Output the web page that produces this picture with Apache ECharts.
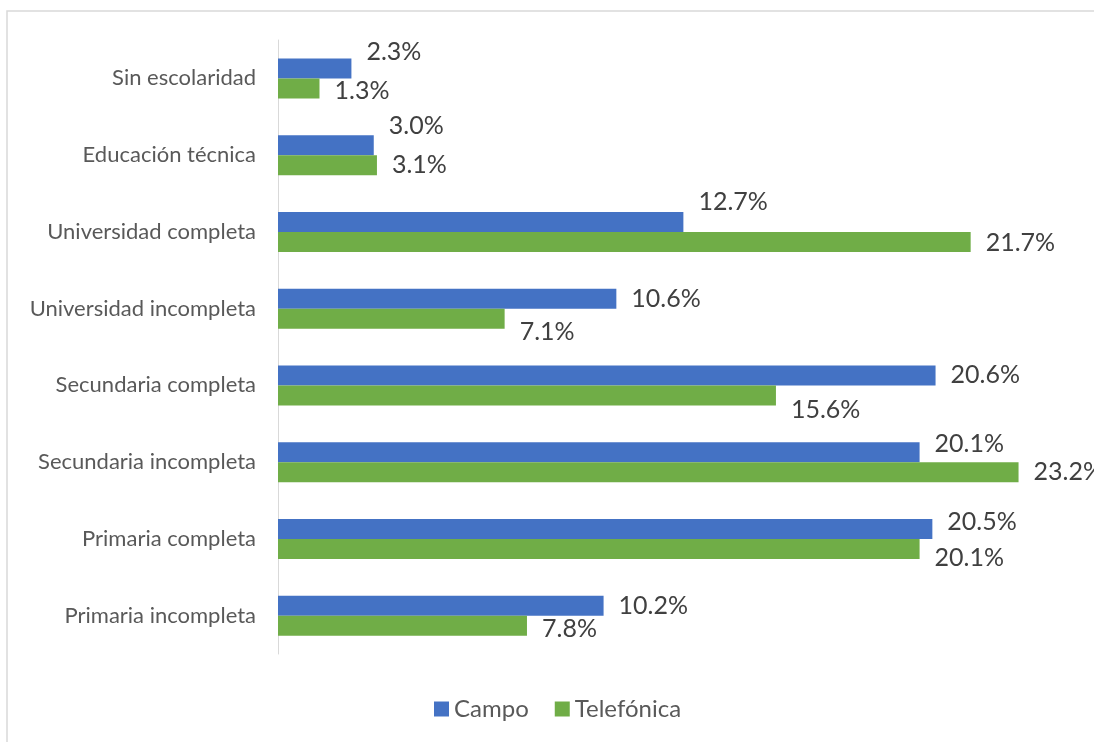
<!DOCTYPE html>
<html>
<head>
<meta charset="utf-8">
<script src="https://cdn.jsdelivr.net/npm/echarts@6/dist/echarts.min.js"></script>
<style>
    html, body { margin: 0; padding: 0; background: #fff; }
    #chart { width: 1094px; height: 742px; }
</style>
</head>
<body>
<div id="chart"></div>
<script>
// categories listed bottom to top
var categories = ['Primaria incompleta', 'Primaria completa', 'Secundaria incompleta', 'Secundaria completa',
    'Universidad incompleta', 'Universidad completa', 'Educación técnica', 'Sin escolaridad'];
var campo = [10.2, 20.5, 20.1, 20.6, 10.6, 12.7, 3.0, 2.3];
var telefonica = [7.8, 20.1, 23.2, 15.6, 7.1, 21.7, 3.1, 1.3];

// vertical nudges of the data labels, as placed in the original
var campoLabelShift = [0, -7, -8, 0, 0, -20, -19, -16];
var teleLabelShift = [3, 9, 0, 15, 13, 1, 0, 3];

var font = 'Lato, "Open Sans", sans-serif';

function withLabels(values, shifts) {
    return values.map(function (v, i) {
        return { value: v, label: { offset: [0, shifts[i]] } };
    });
}

var chart = echarts.init(document.getElementById('chart'));
var option = {
    animation: false,
    textStyle: { fontFamily: font },
    graphic: [{
        type: 'rect',
        shape: { x: 7, y: 11, width: 1200, height: 900 },
        style: { fill: 'none', stroke: '#d9d9d9', lineWidth: 1.5 },
        silent: true
    }],
    grid: { left: 278, right: 18, top: 40, bottom: 88 },
    legend: {
        data: ['Campo', 'Telefónica'],
        left: 429,
        top: 692,
        itemWidth: 15,
        itemHeight: 15,
        itemGap: 26,
        icon: 'rect',
        textStyle: { fontSize: 24, color: '#595959', fontFamily: font }
    },
    xAxis: {
        type: 'value',
        min: 0,
        max: 25,
        show: false
    },
    yAxis: {
        type: 'category',
        data: categories,
        axisTick: { show: false },
        axisLine: { lineStyle: { color: '#d9d9d9', width: 1 } },
        axisLabel: { fontSize: 22, color: '#595959', margin: 22, fontFamily: font }
    },
    series: [
        {
            name: 'Campo',
            type: 'bar',
            barWidth: 20,
            barGap: 0,
            itemStyle: { color: '#4472c4' },
            label: {
                show: true,
                position: 'right',
                distance: 15,
                fontSize: 25,
                color: '#404040',
                fontFamily: font,
                formatter: function (p) { return p.value.toFixed(1) + '%'; }
            },
            data: withLabels(campo, campoLabelShift)
        },
        {
            name: 'Telefónica',
            type: 'bar',
            barWidth: 20,
            barGap: 0,
            itemStyle: { color: '#70ad47' },
            label: {
                show: true,
                position: 'right',
                distance: 15,
                fontSize: 25,
                color: '#404040',
                fontFamily: font,
                formatter: function (p) { return p.value.toFixed(1) + '%'; }
            },
            data: withLabels(telefonica, teleLabelShift)
        }
    ]
};
chart.setOption(option);
</script>
</body>
</html>
